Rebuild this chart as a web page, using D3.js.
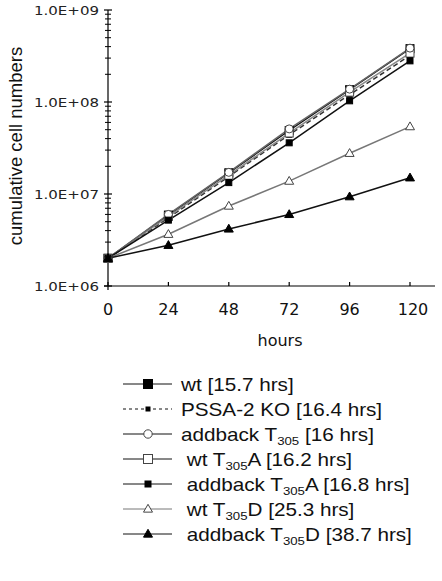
<!DOCTYPE html>
<html><head><meta charset="utf-8">
<script src="https://cdn.jsdelivr.net/npm/d3@7"></script>
<style>body{margin:0;background:#fff}svg{display:block}</style>
</head><body>
<svg id="c" width="442" height="581"></svg>
<script>
const hours = [0, 24, 48, 72, 96, 120];
const xTickLabels = ["0", "24", "48", "72", "96", "120"];
const yTickValues = [1e6, 1e7, 1e8, 1e9];
const yTickLabels = ["1.0E+06", "1.0E+07", "1.0E+08", "1.0E+09"];

const wt          = [2.0e6, 5.9e6, 1.70e7, 4.9e7, 1.36e8, 3.8e8];
const pssa2KO     = [2.0e6, 5.5e6, 1.55e7, 4.4e7, 1.20e8, 3.2e8];
const addbackT305 = [2.0e6, 6.0e6, 1.72e7, 5.1e7, 1.38e8, 3.85e8];
const wtT305A     = [2.0e6, 5.7e6, 1.60e7, 4.6e7, 1.28e8, 3.4e8];
const addbackT305A= [2.0e6, 5.2e6, 1.33e7, 3.6e7, 1.03e8, 2.8e8];
const wtT305D     = [2.0e6, 3.65e6, 7.4e6, 1.38e7, 2.77e7, 5.4e7];
const addbackT305D= [2.0e6, 2.77e6, 4.17e6, 6.0e6, 9.35e6, 1.5e7];

const legendLabels = ["wt [15.7 hrs]", "PSSA-2 KO [16.4 hrs]", "addback T_305_ [16 hrs]",
  " wt T_305_A [16.2 hrs]", " addback T_305_A [16.8 hrs]", " wt T_305_D [25.3 hrs]", " addback T_305_D [38.7 hrs]"];

const series = [
  {values: wt, label: legendLabels[0], color:"#111", dash:null, marker:"square", size:8, fill:"#000", lsize:9},
  {values: pssa2KO, label: legendLabels[1], color:"#333", dash:"5,3", marker:"square", size:5, fill:"#000", lsize:4},
  {values: wtT305A, label: legendLabels[3], color:"#888", dash:null, marker:"square", size:8, fill:"#fff", lsize:9},
  {values: addbackT305, label: legendLabels[2], color:"#666", dash:null, marker:"circle", size:4, fill:"#fff", lsize:4.2},
  {values: addbackT305A, label: legendLabels[4], color:"#111", dash:null, marker:"square", size:6, fill:"#000", lsize:6},
  {values: wtT305D, label: legendLabels[5], color:"#777", dash:null, marker:"triangle", size:9, fill:"#fff", lsize:9},
  {values: addbackT305D, label: legendLabels[6], color:"#111", dash:null, marker:"triangle", size:9, fill:"#000", lsize:9}
];
const legendOrder = [0,1,3,2,4,5,6];

const svg = d3.select("#c");
const x = d3.scaleLinear().domain([0,120]).range([108,410]);
const y = d3.scaleLog().domain([1e6,1e9]).range([286,10]);

// axes
const g = svg.append("g");
g.append("line").attr("x1",108).attr("x2",108).attr("y1",10).attr("y2",290).attr("stroke","#000").attr("stroke-width",1.2);
g.append("line").attr("x1",104).attr("x2",435).attr("y1",286).attr("y2",286).attr("stroke","#000").attr("stroke-width",1.2);

// y ticks (major + minor)
const minor = [];
for (let e=6;e<9;e++) for (let m=2;m<=9;m++) minor.push(m*Math.pow(10,e));
g.selectAll(".ymin").data(minor).enter().append("line")
  .attr("x1",105).attr("x2",111).attr("y1",d=>y(d)).attr("y2",d=>y(d)).attr("stroke","#000").attr("stroke-width",1);
g.selectAll(".ymaj").data(yTickValues).enter().append("line")
  .attr("x1",104).attr("x2",112).attr("y1",d=>y(d)).attr("y2",d=>y(d)).attr("stroke","#000").attr("stroke-width",1.2);
g.selectAll(".ylab").data(yTickValues).enter().append("text")
  .attr("x",34).attr("y",d=>y(d)+5)
  .attr("textLength",65).attr("lengthAdjust","spacingAndGlyphs")
  .attr("font-family","DejaVu Sans").attr("font-size",13).attr("fill","#222")
  .text((d,i)=>yTickLabels[i]);

// x ticks
g.selectAll(".xt").data(hours).enter().append("line")
  .attr("x1",d=>x(d)).attr("x2",d=>x(d)).attr("y1",282).attr("y2",286).attr("stroke","#000").attr("stroke-width",1.2);
g.selectAll(".xl").data(hours).enter().append("text")
  .attr("x",d=>x(d)+(d===120?3:0)).attr("y",315).attr("text-anchor","middle")
  .attr("font-family","DejaVu Sans").attr("font-size",16).attr("fill","#111")
  .text((d,i)=>xTickLabels[i]);
g.append("text").attr("x",280).attr("y",346).attr("text-anchor","middle")
  .attr("font-family","DejaVu Sans").attr("font-size",16).attr("fill","#111").text("hours");
g.append("text").attr("transform","translate(22,146) rotate(-90)").attr("text-anchor","middle")
  .attr("font-family","Liberation Sans").attr("font-size",18.5).attr("fill","#111").text("cumulative cell numbers");

function drawMarker(sel, s, cx, cy, size) {
  if (s.marker === "square") {
    sel.append("rect").attr("x",cx-size/2).attr("y",cy-size/2).attr("width",size).attr("height",size)
      .attr("fill",s.fill).attr("stroke", s.fill==="#fff" ? "#444" : "#000").attr("stroke-width",1);
  } else if (s.marker === "circle") {
    sel.append("circle").attr("cx",cx).attr("cy",cy).attr("r",size)
      .attr("fill",s.fill).attr("stroke","#444").attr("stroke-width",1);
  } else {
    const h = size*0.87;
    sel.append("path").attr("d",`M${cx},${cy-h*0.6}L${cx+size/2},${cy+h*0.4}L${cx-size/2},${cy+h*0.4}Z`)
      .attr("fill",s.fill).attr("stroke", s.fill==="#fff" ? "#444" : "#000").attr("stroke-width",1);
  }
}

const line = d3.line().x((d,i)=>x(hours[i])).y(d=>y(d));
const plot = svg.append("g");
series.forEach(s => {
  plot.append("path").attr("d", line(s.values)).attr("fill","none").attr("stroke",s.color)
    .attr("stroke-width",1.5).attr("stroke-dasharray",s.dash);
});
series.forEach(s => {
  const mg = plot.append("g");
  s.values.forEach((v,i)=> drawMarker(mg, s, x(hours[i]), y(v), s.size));
});

// legend
const leg = svg.append("g");
legendOrder.forEach((si, r) => {
  const s = series[si];
  const cy = 384 + r*25;
  leg.append("line").attr("x1",123).attr("x2",172).attr("y1",cy).attr("y2",cy)
    .attr("stroke", s.color==="#777" ? "#777" : "#111").attr("stroke-width",1).attr("stroke-dasharray",s.dash?"3,3":null);
  drawMarker(leg, s, 148, cy, s.lsize);
  const t = leg.append("text").attr("transform",`translate(181,${cy+7}) scale(1.15,1)`).attr("font-family","Liberation Sans")
    .attr("font-size",18).attr("fill","#111").attr("xml:space","preserve").style("white-space","pre");
  const parts = s.label.split("_");
  parts.forEach((p,k)=>{
    if (k%2===1) t.append("tspan").attr("font-size",11.5).attr("dy",4).text(p);
    else t.append("tspan").attr("dy", k>0?-4:0).text(p);
  });
});
</script>
</body></html>
